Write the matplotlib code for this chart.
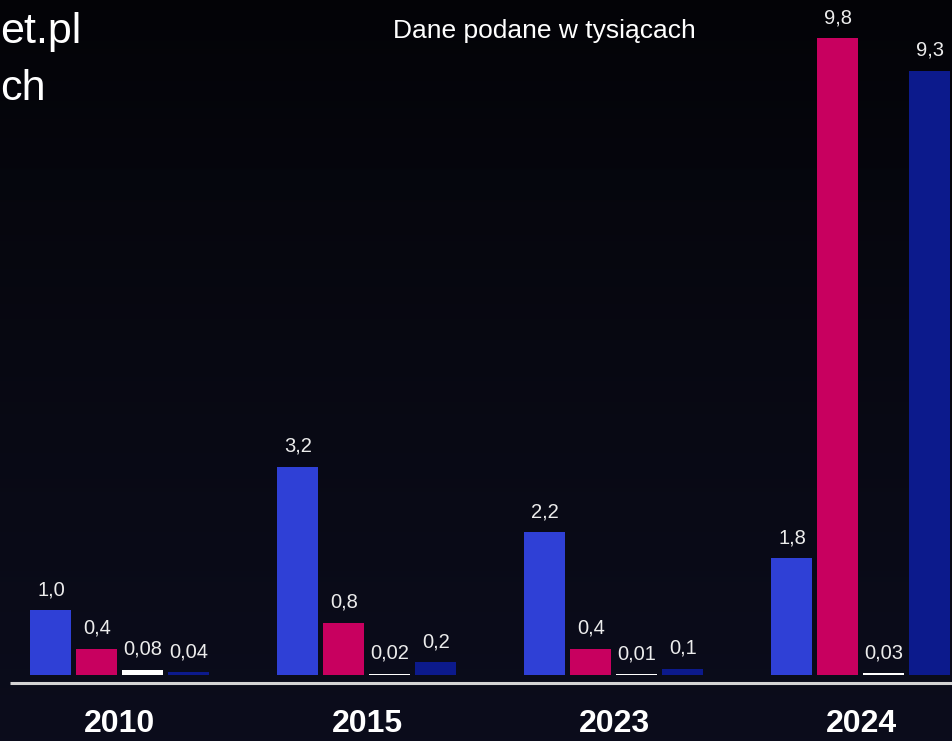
import numpy as np
import matplotlib.pyplot as plt

# values in thousands
years = ['2010', '2015', '2023', '2024']
series_a = [1.0, 3.2, 2.2, 1.8]
series_b = [0.4, 0.8, 0.4, 9.8]
series_c = [0.08, 0.02, 0.01, 0.03]
series_d = [0.04, 0.2, 0.1, 9.3]
labels_a = ['1,0', '3,2', '2,2', '1,8']
labels_b = ['0,4', '0,8', '0,4', '9,8']
labels_c = ['0,08', '0,02', '0,01', '0,03']
labels_d = ['0,04', '0,2', '0,1', '9,3']

colors = ['#2f40d6', '#c8005f', '#ffffff', '#0c1a8c']

plt.rcParams['font.family'] = ['Liberation Sans', 'DejaVu Sans']

fig = plt.figure(figsize=(9.53, 7.41), dpi=100)
ax = fig.add_axes([0, 0, 1, 1])

px_group = 247.0
px_unit = 65.0
x0_px = 120.0
base_px = 66.0
W, H = 953.0, 741.0
xlim = (-x0_px / px_group, (W - x0_px) / px_group)
ylim = (-base_px / px_unit, (H - base_px) / px_unit)

# dark background: near black at the top, a little bluer towards the bottom
grad = np.linspace(0, 1, 256).reshape(-1, 1)
base_top = np.array([0.012, 0.012, 0.025])
base_bot = np.array([0.045, 0.05, 0.11])
img = base_top + (base_bot - base_top) * grad[..., None] ** 0.8
img = np.repeat(img, 2, axis=1)
ax.imshow(img, extent=[xlim[0], xlim[1], ylim[0], ylim[1]], origin='upper',
          aspect='auto', zorder=0)
ax.set_xlim(xlim)
ax.set_ylim(ylim)
ax.axis('off')

x = np.arange(len(years))
step = 46 / px_group
width = 41 / px_group
offsets = np.array([-1.5, -0.5, 0.5, 1.5]) * step

all_series = [series_a, series_b, series_c, series_d]
all_labels = [labels_a, labels_b, labels_c, labels_d]
for vals, labs, off, col in zip(all_series, all_labels, offsets, colors):
    ax.bar(x + off, vals, width=width, color=col, zorder=3)
    for xi, v, lab in zip(x, vals, labs):
        ax.text(xi + off, v + 11 / px_unit, lab, ha='center', va='bottom',
                color='#ececec', fontsize=14.5, zorder=4)

# baseline
ax.plot([xlim[0] + 10 / px_group, xlim[1]], [-8 / px_unit] * 2,
        color='#d4d4d4', linewidth=2.2, zorder=3, solid_capstyle='butt')

for xi, yr in zip(x, years):
    ax.text(xi, -49 / px_unit, yr, ha='center', va='center', color='white',
            fontsize=23, fontweight='bold', zorder=4)

fig.text(544 / W, 1 - 31 / H, 'Dane podane w tysiącach', ha='center', va='center',
         color='white', fontsize=19)
fig.text(0, 1 - 43 / H, 'et.pl', ha='left', va='baseline', color='white', fontsize=31)
fig.text(0, 1 - 100 / H, 'ch', ha='left', va='baseline', color='white', fontsize=31)

fig.savefig('out.png', dpi=100)
